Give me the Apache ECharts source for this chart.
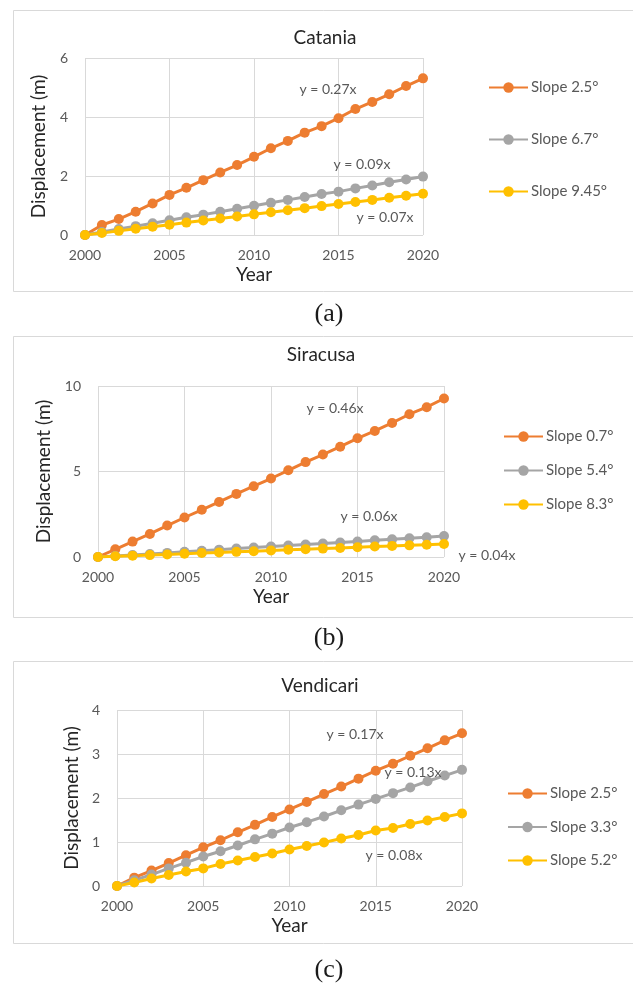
<!DOCTYPE html>
<html>
<head>
<meta charset="utf-8">
<script src="https://cdn.jsdelivr.net/npm/echarts@6/dist/echarts.min.js"></script>
<style>
html,body{margin:0;padding:0;background:#fff;}
#chart{width:633px;height:987px;}
</style>
</head>
<body>
<div id="chart"></div>
<script>
// ---- data ----
const years = [2000,2001,2002,2003,2004,2005,2006,2007,2008,2009,2010,2011,2012,2013,2014,2015,2016,2017,2018,2019,2020];

const cataniaNames = ['Slope 2.5°','Slope 6.7°','Slope 9.45°'];
const catania25 = [0,0.34,0.54,0.79,1.07,1.36,1.60,1.86,2.12,2.37,2.65,2.94,3.19,3.47,3.69,3.96,4.27,4.51,4.77,5.05,5.31];
const catania67 = [0,0.10,0.20,0.30,0.40,0.50,0.60,0.69,0.79,0.89,0.99,1.09,1.19,1.29,1.39,1.47,1.58,1.68,1.79,1.88,1.98];
const catania945 = [0,0.07,0.14,0.21,0.28,0.35,0.42,0.49,0.56,0.63,0.70,0.77,0.84,0.91,0.98,1.05,1.12,1.19,1.26,1.33,1.40];

const siracusaNames = ['Slope 0.7°','Slope 5.4°','Slope 8.3°'];
const siracusa07 = [0,0.45,0.90,1.35,1.84,2.31,2.76,3.22,3.69,4.14,4.59,5.07,5.55,5.99,6.45,6.94,7.37,7.84,8.35,8.76,9.27];
const siracusa54 = [0,0.06,0.12,0.18,0.24,0.30,0.37,0.43,0.49,0.55,0.61,0.67,0.73,0.79,0.85,0.91,0.98,1.04,1.10,1.16,1.23];
const siracusa83 = [0,0.04,0.08,0.11,0.15,0.19,0.23,0.27,0.30,0.34,0.38,0.42,0.46,0.49,0.53,0.57,0.61,0.65,0.68,0.72,0.76];

const vendicariNames = ['Slope 2.5°','Slope 3.3°','Slope 5.2°'];
const vendicari25 = [0,0.19,0.35,0.52,0.70,0.88,1.04,1.22,1.39,1.57,1.74,1.91,2.09,2.26,2.44,2.62,2.78,2.96,3.13,3.31,3.47];
const vendicari33 = [0,0.13,0.26,0.40,0.53,0.67,0.79,0.92,1.06,1.19,1.33,1.45,1.58,1.72,1.85,1.98,2.11,2.24,2.38,2.51,2.64];
const vendicari52 = [0,0.08,0.17,0.25,0.33,0.40,0.50,0.58,0.66,0.74,0.83,0.91,0.99,1.08,1.16,1.26,1.32,1.41,1.49,1.57,1.65];

const panelTitles = ['Catania','Siracusa','Vendicari'];
const captions = ['(a)','(b)','(c)'];
const trendLabels = [['y = 0.27x','y = 0.09x','y = 0.07x'],['y = 0.46x','y = 0.06x','y = 0.04x'],['y = 0.17x','y = 0.13x','y = 0.08x']];
const yMax = [6,10,4];
const yInterval = [2,5,1];

// ---- styling / layout ----
const colors = ['#ED7D31','#A5A5A5','#FFC000'];
const FONT = 'Lato';
const grids = [
  {left:85, top:58, width:338, height:177},
  {left:98, top:386, width:346, height:171},
  {left:117, top:710, width:345, height:176}
];
const yNameGap = [37,45,35];
const boxes = [[10,281],[336,281],[661,282]];
const titlePos = [[325,38],[321,355],[320,686]];
const capPos = [[329,314],[329,638],[329,970]];
const trendPos = [
  [[328,89],[362,164],[385,217]],
  [[335,408],[369,516],[487,555]],
  [[355,734],[413,772],[394,855]]
];
const legendPos = [{left:488, top:80, gap:37},{left:503, top:429, gap:19},{left:507, top:786, gap:18.5}];

const panels = [
  {names:cataniaNames, data:[catania25,catania67,catania945]},
  {names:siracusaNames, data:[siracusa07,siracusa54,siracusa83]},
  {names:vendicariNames, data:[vendicari25,vendicari33,vendicari52]}
];

const xAxes = [], yAxes = [], series = [], legends = [], graphics = [];
panels.forEach((p, i) => {
  xAxes.push({
    type:'value', gridIndex:i, min:2000, max:2020, interval:5,
    name:'Year', nameLocation:'middle', nameGap:30,
    nameTextStyle:{fontFamily:FONT, fontSize:19, color:'#262626'},
    axisLine:{show:false}, axisTick:{show:false},
    axisLabel:{fontFamily:FONT, fontSize:14, color:'#595959', margin:13, formatter:(v)=>String(v)},
    splitLine:{show:true, lineStyle:{color:'#d9d9d9', width:1}}
  });
  yAxes.push({
    type:'value', gridIndex:i, min:0, max:yMax[i], interval:yInterval[i],
    name:'Displacement (m)', nameLocation:'middle', nameGap:yNameGap[i], nameRotate:90,
    nameTextStyle:{fontFamily:FONT, fontSize:19, color:'#262626'},
    axisLine:{show:false}, axisTick:{show:false},
    axisLabel:{fontFamily:FONT, fontSize:14, color:'#595959', margin:17},
    splitLine:{show:true, lineStyle:{color:'#d9d9d9', width:1}}
  });
  p.names.forEach((n, k) => {
    series.push({
      type:'line', name:n, xAxisIndex:i, yAxisIndex:i,
      data: years.map((y, j) => [y, p.data[k][j]]),
      symbol:'circle', symbolSize:10, showAllSymbol:true,
      lineStyle:{color:colors[k], width:3},
      itemStyle:{color:colors[k]},
      color:colors[k]
    });
  });
  legends.push({
    orient:'vertical', left:legendPos[i].left, top:legendPos[i].top, itemGap:legendPos[i].gap,
    padding:0, itemWidth:39, itemHeight:13, data:p.names, selectedMode:false,
    textStyle:{fontFamily:FONT, fontSize:15, color:'#595959', padding:[0,0,0,-2]}
  });
  graphics.push({type:'rect', silent:true, z:-10, shape:{x:13.5, y:boxes[i][0]+0.5, width:640, height:boxes[i][1]},
    style:{fill:'#fff', stroke:'#d9d9d9', lineWidth:1}});
  graphics.push({type:'text', x:titlePos[i][0], y:titlePos[i][1],
    style:{text:panelTitles[i], font:'19px '+FONT, fill:'#262626', textAlign:'center', textVerticalAlign:'middle'}});
  graphics.push({type:'text', x:capPos[i][0], y:capPos[i][1],
    style:{text:captions[i], font:'26px "Liberation Serif"', fill:'#1a1a1a', textAlign:'center', textVerticalAlign:'middle'}});
  trendLabels[i].forEach((t, k) => {
    graphics.push({type:'text', x:trendPos[i][k][0], y:trendPos[i][k][1], z:100,
      style:{text:t, font:'14px '+FONT, fill:'#595959', textAlign:'center', textVerticalAlign:'middle'}});
  });
});

const chart = echarts.init(document.getElementById('chart'), null, {renderer:'canvas'});
chart.setOption({
  backgroundColor:'#fff',
  animation:false,
  grid:grids,
  xAxis:xAxes,
  yAxis:yAxes,
  legend:legends,
  series:series,
  graphic:graphics
});
</script>
</body>
</html>
